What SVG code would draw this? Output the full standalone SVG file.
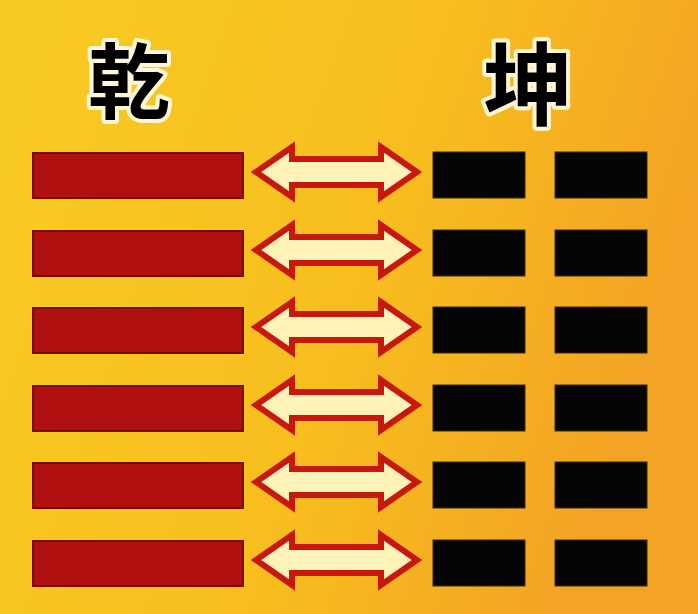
<svg xmlns="http://www.w3.org/2000/svg" xmlns:xlink="http://www.w3.org/1999/xlink" width="698" height="614" viewBox="0 0 698 614">
<defs>
<linearGradient id="bg" x1="0" y1="0" x2="1" y2="0.3">
<stop offset="0" stop-color="#F9CB22"/>
<stop offset="0.6" stop-color="#F7BE1E"/>
<stop offset="1" stop-color="#F3A424"/>
</linearGradient>
<path id="arrow" d="M256,0 L292,-25 L292,-13 L381,-13 L381,-25 L417,0 L381,25 L381,13 L292,13 L292,25 Z"/>
</defs>
<style>
.yang{fill:#B01010;stroke:#7A0A06;stroke-width:2}
.yin{fill:#050505;stroke:#3a2a00;stroke-width:1}
.arr{fill:#FFF2B8;stroke:#C8180E;stroke-width:6;stroke-linejoin:miter}
.ttl{font-family:"Noto Sans CJK SC","Noto Sans CJK TC",sans-serif;font-weight:700;fill:#000;stroke:#FFF6D8;stroke-width:8;paint-order:stroke;stroke-linejoin:round;text-anchor:middle}
</style>
<rect width="698" height="614" fill="url(#bg)"/>
<g id="title-qian"><text class="ttl" x="129" y="112" font-size="82">乾</text></g>
<g id="title-kun"><text class="ttl" x="528" y="118" font-size="90">坤</text></g>
<g id="qian">
<rect class="yang" x="33" y="153" width="210" height="45"/>
<rect class="yang" x="33" y="231" width="210" height="45"/>
<rect class="yang" x="33" y="308" width="210" height="45"/>
<rect class="yang" x="33" y="386" width="210" height="45"/>
<rect class="yang" x="33" y="463" width="210" height="45"/>
<rect class="yang" x="33" y="541" width="210" height="45"/>
</g>
<g id="kun">
<rect class="yin" x="433" y="152" width="92" height="46"/><rect class="yin" x="555" y="152" width="92" height="46"/>
<rect class="yin" x="433" y="230" width="92" height="46"/><rect class="yin" x="555" y="230" width="92" height="46"/>
<rect class="yin" x="433" y="307" width="92" height="46"/><rect class="yin" x="555" y="307" width="92" height="46"/>
<rect class="yin" x="433" y="385" width="92" height="46"/><rect class="yin" x="555" y="385" width="92" height="46"/>
<rect class="yin" x="433" y="462" width="92" height="46"/><rect class="yin" x="555" y="462" width="92" height="46"/>
<rect class="yin" x="433" y="540" width="92" height="46"/><rect class="yin" x="555" y="540" width="92" height="46"/>
</g>
<g id="connectors">
<use xlink:href="#arrow" class="arr" transform="translate(0,172)"/>
<use xlink:href="#arrow" class="arr" transform="translate(0,250)"/>
<use xlink:href="#arrow" class="arr" transform="translate(0,327)"/>
<use xlink:href="#arrow" class="arr" transform="translate(0,405)"/>
<use xlink:href="#arrow" class="arr" transform="translate(0,482)"/>
<use xlink:href="#arrow" class="arr" transform="translate(0,560)"/>
</g>
</svg>
